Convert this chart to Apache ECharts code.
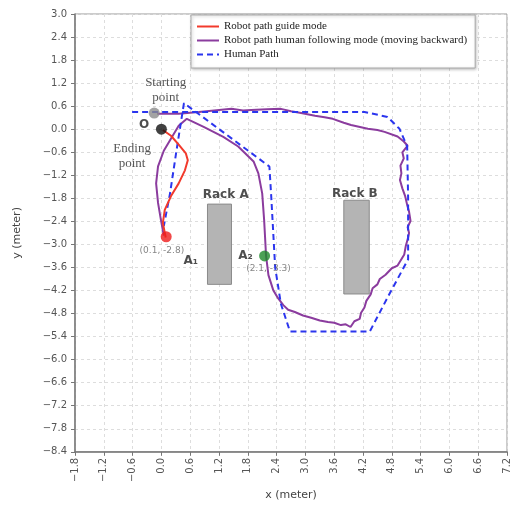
<!DOCTYPE html>
<html>
<head>
<meta charset="utf-8">
<script src="https://cdn.jsdelivr.net/npm/echarts@6/dist/echarts.min.js"></script>
<style>
html, body { margin: 0; padding: 0; background: #fff; }
#chart { width: 512px; height: 506px; }
</style>
</head>
<body>
<div id="chart"></div>
<script>
// robot path in guide mode (red), from A1 back to O
const guidePath = [
  [0.09, -2.82], [0.03, -2.44], [0.07, -2.10], [0.20, -1.74], [0.36, -1.41],
  [0.49, -1.07], [0.55, -0.81], [0.51, -0.63], [0.36, -0.40], [0.20, -0.17], [0.03, -0.02]
]
// robot path in human following mode (purple)
const followPath = [
  [-0.09, 0.40], [0.36, 0.40], [0.78, 0.45], [1.10, 0.49], [1.46, 0.53], [1.70, 0.49],
  [1.87, 0.50], [2.20, 0.52], [2.49, 0.53], [2.70, 0.47], [2.91, 0.42], [3.20, 0.35],
  [3.40, 0.31], [3.57, 0.27], [3.80, 0.17], [3.95, 0.11], [4.30, 0.01], [4.50, -0.02],
  [4.65, -0.07], [4.92, -0.19], [5.05, -0.32], [5.13, -0.43], [5.02, -0.60], [5.05, -0.76],
  [4.98, -0.95], [5.00, -1.15], [4.97, -1.32], [5.02, -1.54], [5.08, -1.75], [5.12, -1.97],
  [5.16, -2.15], [5.19, -2.39], [5.13, -2.55], [5.16, -2.70], [5.14, -2.82], [5.09, -3.05],
  [5.06, -3.26], [4.92, -3.55], [4.80, -3.62], [4.67, -3.79], [4.55, -3.90], [4.50, -4.04],
  [4.40, -4.14], [4.36, -4.30], [4.27, -4.47], [4.23, -4.64], [4.16, -4.78], [4.13, -4.94],
  [4.02, -5.00], [3.94, -5.15], [3.84, -5.08], [3.74, -5.10], [3.60, -5.04], [3.47, -5.02],
  [3.30, -4.98], [3.12, -4.91], [2.95, -4.85], [2.78, -4.76], [2.64, -4.70], [2.54, -4.58],
  [2.43, -4.40], [2.33, -4.19], [2.23, -3.80], [2.18, -3.29], [2.16, -2.82], [2.14, -2.36],
  [2.10, -1.67], [2.02, -1.15], [1.92, -0.84], [1.60, -0.45], [1.29, -0.20], [0.88, 0.06],
  [0.53, 0.27], [0.36, 0.09], [0.22, -0.20], [0.05, -0.56], [-0.07, -0.97], [-0.11, -1.41],
  [-0.07, -1.92], [-0.01, -2.36], [0.05, -2.77]
]
// human path (blue dashed)
const humanPath = [
  [-0.61, 0.45], [4.23, 0.45], [4.71, 0.32], [4.96, 0.01], [5.12, -0.45], [5.14, -1.79],
  [5.14, -3.39], [4.75, -4.29], [4.34, -5.27], [2.68, -5.27], [2.49, -4.55], [2.37, -3.60],
  [2.29, -1.79], [2.25, -0.97], [0.47, 0.68], [0.32, -0.51], [0.18, -1.67], [0.05, -2.52]
]
// racks: [x0, x1, yBottom, yTop]
const racks = [
  [0.96, 1.46, -4.04, -1.95],
  [3.80, 4.33, -4.29, -1.85]
]
// key points: [x, y]
const startPoint = [-0.15, 0.42]
const originPoint = [0, 0]
const pointA1 = [0.1, -2.8]
const pointA2 = [2.15, -3.3]
// text notes: [x, y, text, style]
const notes = [
  [0.09, 1.01, 'Starting\npoint', 'serif'],
  [-0.61, -0.70, 'Ending\npoint', 'serif'],
  [-0.36, 0.11, 'O', 'bold'],
  [1.34, -1.72, 'Rack A', 'bold'],
  [4.03, -1.69, 'Rack B', 'bold'],
  [0.61, -3.42, 'A₁', 'bold'],
  [1.75, -3.29, 'A₂', 'bold'],
  [0.01, -3.16, '(0.1, -2.8)', 'coord'],
  [2.23, -3.62, '(2.1, -3.3)', 'coord']
]

const noteStyles = {
  serif: { fontFamily: 'Liberation Serif', fontSize: 13, color: '#2a2a2a', lineHeight: 15 },
  bold: { fontFamily: 'DejaVu Sans', fontSize: 12, fontWeight: 'bold', color: '#222' },
  coord: { fontFamily: 'DejaVu Sans', fontSize: 9, color: '#666' }
}

const fmt = v => v.toFixed(1).replace('-', '\u2212')

const chart = echarts.init(document.getElementById('chart'))
const option = {
  animation: false,
  backgroundColor: '#fff',
  grid: {
    left: 75, right: 2, top: 14, bottom: 50,
    show: true, borderColor: '#999', borderWidth: 1
  },
  legend: {
    data: ['Robot path guide mode', 'Robot path human following mode (moving backward)', 'Human Path'],
    orient: 'vertical',
    left: 191,
    top: 15,
    padding: [6, 8, 8, 5],
    itemWidth: 22,
    itemHeight: 10,
    itemGap: 3,
    itemStyle: { opacity: 0 },
    backgroundColor: '#fff',
    borderColor: '#aaa',
    borderWidth: 1,
    shadowColor: 'rgba(0,0,0,0.25)',
    shadowBlur: 3,
    shadowOffsetX: 1,
    shadowOffsetY: 1,
    textStyle: { fontFamily: 'Liberation Serif', fontSize: 11, color: '#222' }
  },
  xAxis: {
    type: 'value',
    min: -1.8, max: 7.2, interval: 0.6,
    name: 'x (meter)',
    nameLocation: 'middle',
    nameGap: 37,
    nameTextStyle: { fontFamily: 'DejaVu Sans', fontSize: 11, color: '#444' },
    axisLine: { onZero: false, lineStyle: { color: '#777', width: 1.5 } },
    axisTick: { show: true, length: 4, lineStyle: { color: '#777' } },
    axisLabel: { rotate: 90, formatter: fmt, fontFamily: 'DejaVu Sans', fontSize: 10, color: '#555', margin: 6 },
    splitLine: { show: true, lineStyle: { color: '#ddd', type: [3, 3] } }
  },
  yAxis: {
    type: 'value',
    min: -8.4, max: 3.0, interval: 0.6,
    name: 'y (meter)',
    nameLocation: 'middle',
    nameGap: 52,
    nameTextStyle: { fontFamily: 'DejaVu Sans', fontSize: 11, color: '#444' },
    axisLine: { show: true, onZero: false, lineStyle: { color: '#777', width: 1.5 } },
    axisTick: { show: true, length: 4, lineStyle: { color: '#777' } },
    axisLabel: { formatter: fmt, fontFamily: 'DejaVu Sans', fontSize: 10, color: '#555', margin: 8 },
    splitLine: { show: true, lineStyle: { color: '#ddd', type: [3, 3] } }
  },
  series: [
    {
      name: 'Racks',
      type: 'custom',
      data: racks,
      z: 1,
      renderItem: (params, api) => {
        const p0 = api.coord([api.value(0), api.value(3)])
        const p1 = api.coord([api.value(1), api.value(2)])
        return {
          type: 'rect',
          shape: { x: p0[0], y: p0[1], width: p1[0] - p0[0], height: p1[1] - p0[1] },
          style: { fill: '#b4b4b4', stroke: '#8a8a8a', lineWidth: 1 }
        }
      }
    },
    {
      name: 'Robot path human following mode (moving backward)',
      type: 'line',
      data: followPath,
      symbol: 'none',
      z: 3,
      lineStyle: { color: '#8b3c9e', width: 2 },
      itemStyle: { color: '#8b3c9e' }
    },
    {
      name: 'Human Path',
      type: 'line',
      data: humanPath,
      symbol: 'none',
      z: 4,
      lineStyle: { color: '#2b35ee', width: 2, type: [6, 4] },
      itemStyle: { color: '#2b35ee' }
    },
    {
      name: 'Robot path guide mode',
      type: 'line',
      data: guidePath,
      symbol: 'none',
      z: 5,
      lineStyle: { color: '#f23a2c', width: 2 },
      itemStyle: { color: '#f23a2c' }
    },
    {
      name: 'Points',
      type: 'scatter',
      z: 6,
      symbolSize: 11,
      data: [
        { value: startPoint, itemStyle: { color: '#8c8c8c' } },
        { value: originPoint, itemStyle: { color: '#111' } },
        { value: pointA1, itemStyle: { color: '#ee1b1b' } },
        { value: pointA2, itemStyle: { color: '#1e8a2a' } }
      ]
    },
    {
      name: 'Notes',
      type: 'scatter',
      z: 7,
      symbolSize: 0,
      silent: true,
      data: notes.map(n => ({
        value: [n[0], n[1]],
        label: Object.assign({
          show: true,
          position: 'inside',
          align: 'center',
          verticalAlign: 'middle',
          formatter: n[2]
        }, noteStyles[n[3]])
      }))
    }
  ]
}
chart.setOption(option)
</script>
</body>
</html>
